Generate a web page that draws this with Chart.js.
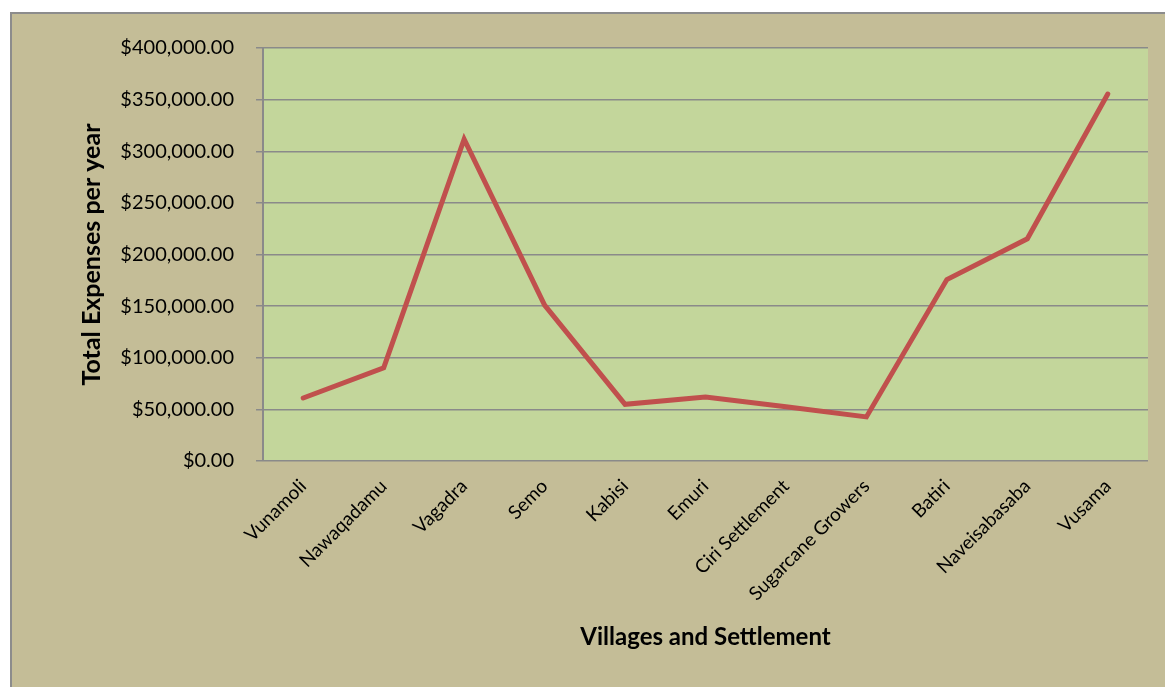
<!DOCTYPE html>
<html>
<head>
<meta charset="utf-8">
<script src="https://cdn.jsdelivr.net/npm/chart.js@4.4.1/dist/chart.umd.min.js"></script>
<style>
    html, body { margin: 0; padding: 0; background: #ffffff; }
    #frame {
        position: absolute;
        left: 10px;
        top: 12px;
        width: 1155px;
        height: 675px;
        background: #C4BD97;
        border-left: 2px solid #8c8c8c;
        border-top: 2px solid #8c8c8c;
    }
    #frame canvas { display: block; }
</style>
</head>
<body>
<div id="frame"><canvas id="expensesChart" width="1153" height="673"></canvas></div>
<script>
// Total yearly expenses for each village / settlement
const villages = [
    'Vunamoli', 'Nawaqadamu', 'Vagadra', 'Semo', 'Kabisi', 'Emuri',
    'Ciri Settlement', 'Sugarcane Growers', 'Batiri', 'Naveisabasaba', 'Vusama'
];
const totalExpenses = [
    61000, 90300, 311600, 151000, 54900, 62000,
    52500, 42700, 175700, 215200, 355400
];
const yTicks = { min: 0, max: 400000, step: 50000 };

const GRID = '#8a8a8a';

// fill the plot area (inside the axes) with the green panel
const plotAreaFill = {
    id: 'plotAreaFill',
    beforeDraw(chart) {
        const { ctx, chartArea: a } = chart;
        ctx.save();
        ctx.fillStyle = '#C3D69B';
        ctx.fillRect(a.left, a.top, a.right - a.left, a.bottom - a.top);
        ctx.restore();
    }
};

const money = v => '$' + v.toLocaleString('en-US', { minimumFractionDigits: 2, maximumFractionDigits: 2 });

new Chart(document.getElementById('expensesChart').getContext('2d'), {
    type: 'line',
    data: {
        labels: villages,
        datasets: [{
            label: 'Total Expenses per year',
            data: totalExpenses,
            borderColor: '#C0504D',
            borderWidth: 5,
            borderCapStyle: 'round',
            pointRadius: 0,
            tension: 0,
            fill: false,
        }],
    },
    options: {
        responsive: false,
        animation: false,
        layout: { padding: { top: 32, right: 17, left: 0, bottom: 0 } },
        plugins: {
            legend: { display: false },
            tooltip: { enabled: false },
        },
        scales: {
            x: {
                offset: true,
                afterFit: s => { s.height = 226; },
                grid: { display: false, drawTicks: false },
                border: { display: false },
                ticks: {
                    autoSkip: false,
                    maxRotation: 45,
                    minRotation: 45,
                    padding: 14,
                    color: '#000',
                    font: { family: 'Lato', size: 19 },
                },
                title: {
                    display: true,
                    text: 'Villages and Settlement',
                    color: '#000',
                    font: { family: 'Lato', size: 24, weight: 'bold' },
                    padding: { top: 0, bottom: 35 },
                },
            },
            y: {
                min: yTicks.min,
                max: yTicks.max,
                afterFit: s => { s.width = 251; },
                grid: { color: GRID, lineWidth: 1.5, tickLength: 7, drawTicks: true },
                border: { display: true, color: GRID, width: 2 },
                ticks: {
                    stepSize: yTicks.step,
                    padding: 22,
                    color: '#000',
                    font: { family: 'Lato', size: 20 },
                    callback: v => money(v),
                },
                title: {
                    display: true,
                    text: 'Total Expenses per year',
                    color: '#000',
                    font: { family: 'Lato', size: 25, weight: 'bold' },
                    padding: { top: 65, bottom: 0 },
                },
            },
        },
    },
    plugins: [plotAreaFill],
});
</script>
</body>
</html>
